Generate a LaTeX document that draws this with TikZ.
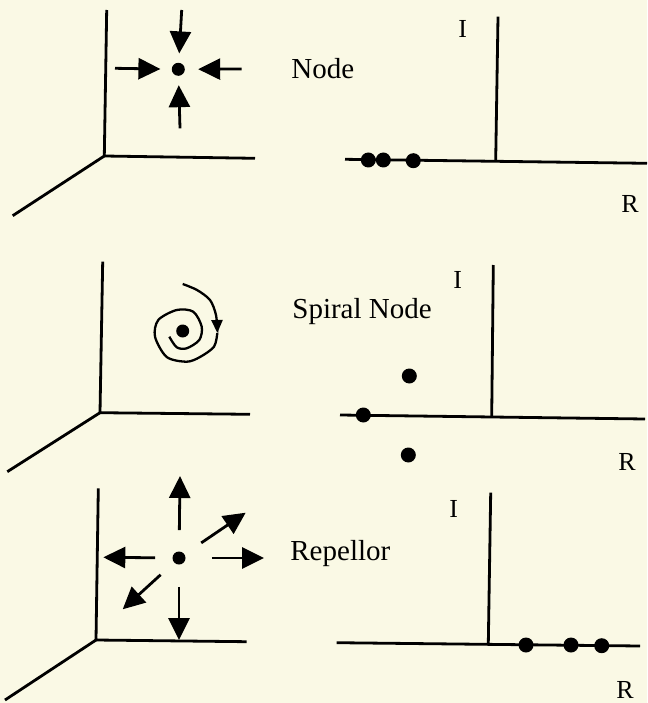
\documentclass[tikz,border=0pt]{standalone}
\usepackage{fontspec}
\setmainfont{Liberation Serif}
\usetikzlibrary{arrows.meta}
\definecolor{paper}{RGB}{250,249,229}
\tikzset{
  dot/.style={circle,fill=black,inner sep=0pt,minimum size=15pt},
  smalldot/.style={circle,fill=black,inner sep=0pt,minimum size=13pt},
  label/.style={anchor=base west,inner sep=0pt,font=\fontsize{29}{34}\selectfont},
  axislabel/.style={anchor=base west,inner sep=0pt,font=\fontsize{26}{30}\selectfont},
}
\begin{document}
\begin{tikzpicture}[x=1pt,y=-1pt,line width=2.8pt,
  >={Triangle[length=22pt,width=21pt]}]
  \fill[paper] (0,0) rectangle (647,703);
  \useasboundingbox (0,0) rectangle (647,703);

  % Node
  \draw (106.7,10) -- (104.3,156) -- (255,158.3);
  \draw (104.3,156) -- (12.7,215.7);
  \node[smalldot] (n1) at (178.3,69.3) {};
  \draw[->,shorten >=8pt] (181.7,10) -- (n1);
  \draw[->,shorten >=8pt] (180,128.3) -- (n1);
  \draw[->,shorten >=10pt] (115,68.3) -- (n1);
  \draw[->,shorten >=12pt] (241.7,69) -- (n1);
  \node[label] (t1) at (290,79) {Node};

  \draw (498,16.7) -- (495.7,160);
  \draw (345,159.3) -- (647,163.3);
  \node[axislabel] (i1) at (457,38) {I};
  \node[axislabel] (r1) at (620,213) {R};
  \node[dot] (e1a) at (368.3,160) {};
  \node[dot] (e1b) at (383.3,160) {};
  \node[dot] (e1c) at (413.3,160.7) {};

  % Spiral Node
  \draw (102.7,261.7) -- (100,412.7) -- (250,414.3);
  \draw (100,412.7) -- (7.3,471.7);
  \node[smalldot] (n2) at (182.7,331) {};
  \draw[-{Triangle[length=13pt,width=11pt]},line width=2.3pt]
    plot[smooth] coordinates {(182.7,284) (197,290) (210,300) (216,315) (217.3,333)};
  \draw[line width=2.3pt] plot[smooth] coordinates {(217.3,333) (214,346.7) (200,357)
    (186.7,361.7) (166.7,357) (155,336.7) (158.3,320) (176.7,310) (193.3,311.7)
    (201.7,326.7) (199.3,340) (186.7,348.3) (176.7,347.3) (169.3,336.7)};
  \node[label] (t2) at (291,318) {Spiral Node};

  \draw (493.3,265) -- (491.7,416.7);
  \draw (340,415) -- (645,419);
  \node[axislabel] (i2) at (452,288) {I};
  \node[axislabel] (r2) at (617,470) {R};
  \node[dot] (e2a) at (363.3,415) {};
  \node[dot] (e2b) at (409.3,376) {};
  \node[dot] (e2c) at (408.3,455) {};

  % Repellor
  \draw (98.3,488.3) -- (96,640) -- (246.7,641.7);
  \draw (96,640) -- (5,700);
  \node[smalldot] (n3) at (179,558) {};
  \draw[->,shorten <=20pt] (n3) -- (180,476);
  \draw[->,shorten <=21pt] (n3) -- (179,640);
  \draw[->,shorten <=16pt] (n3) -- (103.3,557.3);
  \draw[->,shorten <=25pt] (n3) -- (264,558);
  \draw[->,shorten <=19pt] (n3) -- (245.7,512.7);
  \draw[->,shorten <=17pt] (n3) -- (122.7,609.3);
  \node[label] (t3) at (289,560) {Repellor};

  \draw (490.7,492.7) -- (488.3,643.3);
  \draw (336.7,642.7) -- (640,646);
  \node[axislabel] (i3) at (448,517) {I};
  \node[axislabel] (r3) at (615,698) {R};
  \node[dot] (e3a) at (526,645) {};
  \node[dot] (e3b) at (571,645) {};
  \node[dot] (e3c) at (601.7,645.7) {};
\end{tikzpicture}
\end{document}
